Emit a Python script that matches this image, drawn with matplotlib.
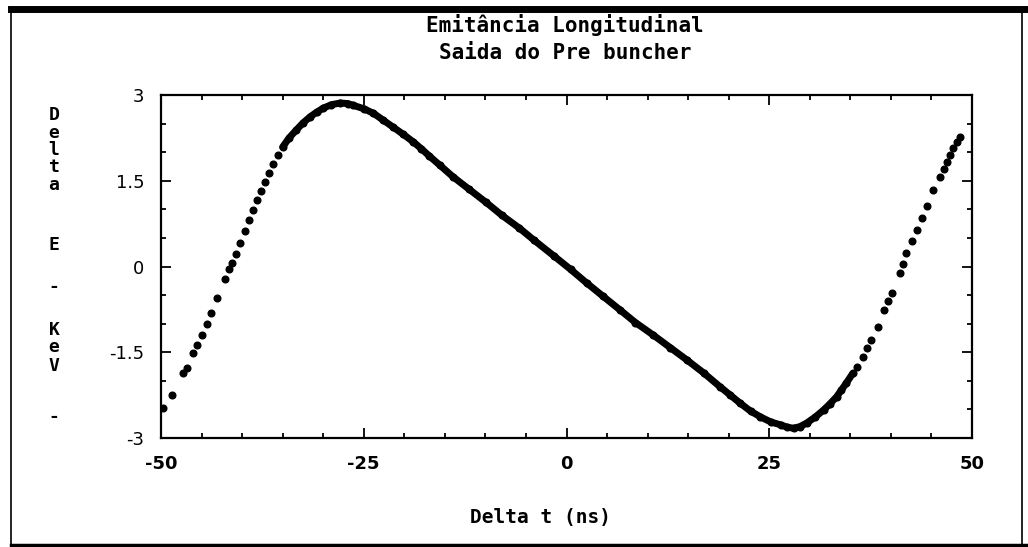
import numpy as np
import matplotlib
matplotlib.use("Agg")
import matplotlib.pyplot as plt
from matplotlib.lines import Line2D
from matplotlib.ticker import MultipleLocator

# points: delta t (ns), delta E (keV)
delta_t = [-49.8, -48.7, -47.3, -46.8, -46.0, -45.5, -45.0, -44.3, -43.8, -43.1,
           -42.1, -41.6, -41.3, -40.8, -40.3, -39.7, -39.2, -38.7, -38.2, -37.7,
           -37.2, -36.7, -36.2, -35.6, -35.0, -34.2, -33.3, -32.5, -31.6, -30.8,
           -30.0, -29.0, -27.9, -27.0, -26.3, -25.0, -23.8, -22.6, -21.4, -20.1,
           -18.9, -17.9, -16.9, -15.6, -14.0, -12.0, -9.9, -8.0, -5.8, -4.0,
           -1.6, 0.5, 2.5, 4.5, 6.6, 8.5, 10.7, 12.8, 14.8, 16.9,
           18.9, 20.2, 21.4, 22.7, 23.9, 25.2, 26.4, 27.2, 28.0, 28.8,
           29.6, 30.7, 31.7, 32.5, 33.3, 33.9, 34.5, 35.3, 35.8, 36.6,
           37.1, 37.6, 38.4, 39.2, 39.7, 40.1, 41.1, 41.5, 41.9, 42.6,
           43.2, 43.8, 44.4, 45.2, 46.0, 46.5, 46.9, 47.3, 47.7, 48.1, 48.5]
delta_e = [-2.47, -2.25, -1.87, -1.78, -1.51, -1.38, -1.20, -1.00, -0.81, -0.55,
           -0.22, -0.05, 0.06, 0.22, 0.41, 0.62, 0.81, 0.98, 1.16, 1.32,
           1.48, 1.64, 1.80, 1.95, 2.09, 2.25, 2.39, 2.51, 2.62, 2.70,
           2.77, 2.83, 2.86, 2.85, 2.82, 2.76, 2.68, 2.56, 2.44, 2.31,
           2.18, 2.06, 1.93, 1.77, 1.57, 1.35, 1.12, 0.90, 0.67, 0.46,
           0.19, -0.05, -0.29, -0.52, -0.76, -0.98, -1.20, -1.42, -1.63, -1.86,
           -2.10, -2.25, -2.39, -2.53, -2.63, -2.72, -2.77, -2.81, -2.83, -2.80,
           -2.74, -2.63, -2.51, -2.40, -2.28, -2.16, -2.04, -1.87, -1.75, -1.58,
           -1.43, -1.28, -1.05, -0.76, -0.60, -0.47, -0.12, 0.05, 0.23, 0.45,
           0.64, 0.85, 1.05, 1.34, 1.57, 1.70, 1.83, 1.95, 2.07, 2.17, 2.27]

x_ticks = [-50, -25, 0, 25, 50]
y_ticks = [-3, -1.5, 0, 1.5, 3]
y_tick_labels = ["-3", "-1.5", "0", "1.5", "3"]
title_lines = ["Emitância Longitudinal", "Saida do Pre buncher"]
y_letters = ["D", "e", "l", "t", "a", "E", "-", "K", "e", "V", "-"]
y_letter_pos = [115, 133, 150, 167, 185, 245, 287, 330, 347, 366, 417]  # pixel rows

W, H = 1028, 547
fig = plt.figure(figsize=(W / 100, H / 100), dpi=100)
ax = fig.add_axes([161 / W, 1 - 438 / H, (972 - 161) / W, (438 - 95) / H])

t = np.array(delta_t)
e = np.array(delta_e)
# dense middle part of the cloud looks like a solid band
band = (t > -35.5) & (t < 35.5)
ax.plot(t[band], e[band], "-", color="black", lw=5, solid_capstyle="round")
ax.plot(t, e, "o", color="black", ms=4.8, mec="black")

ax.set_xlim(-50, 50)
ax.set_ylim(-3, 3)
ax.set_xticks(x_ticks)
ax.set_xticklabels([str(v) for v in x_ticks], fontsize=13, weight="bold")
ax.set_yticks(y_ticks)
ax.set_yticklabels(y_tick_labels, fontsize=13)
ax.xaxis.set_minor_locator(MultipleLocator(5))
ax.yaxis.set_minor_locator(MultipleLocator(0.5))
ax.tick_params(which="both", direction="in", top=True, right=True, width=1.3, colors="black")
ax.tick_params(which="major", length=7, pad=12)
ax.tick_params(which="minor", length=3.5)
for s in ax.spines.values():
    s.set_linewidth(1.6)

mono = "DejaVu Sans Mono"
fig.text(565 / W, 1 - 25 / H, title_lines[0], ha="center", va="center",
         family=mono, weight="bold", fontsize=15)
fig.text(565 / W, 1 - 53 / H, title_lines[1], ha="center", va="center",
         family=mono, weight="bold", fontsize=15)
fig.text(540 / W, 1 - 517 / H, "Delta t (ns)", ha="center", va="center",
         family=mono, weight="bold", fontsize=14)
for ch, py in zip(y_letters, y_letter_pos):
    fig.text(54 / W, 1 - py / H, ch, ha="center", va="center",
             family=mono, weight="bold", fontsize=13)

# scanned page frame
fig.add_artist(Line2D([11 / W, 1], [1 - 8.5 / H] * 2, color="black", lw=5))
fig.add_artist(Line2D([11 / W] * 2, [1 - 8 / H, 1 - 545 / H], color="black", lw=1.2))
fig.add_artist(Line2D([1022 / W] * 2, [1 - 8 / H, 1 - 545 / H], color="black", lw=1.2))
fig.add_artist(Line2D([11 / W, 1], [1 - 545 / H] * 2, color="black", lw=2.5))

fig.savefig("out.png", dpi=100)
